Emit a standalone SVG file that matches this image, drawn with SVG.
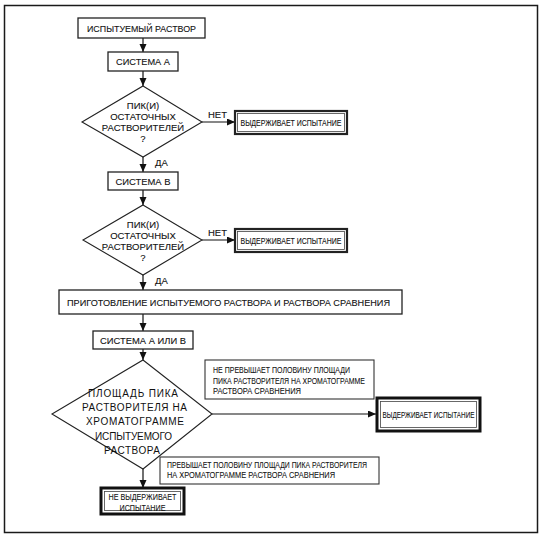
<svg xmlns="http://www.w3.org/2000/svg" width="544" height="549" viewBox="0 0 544 549">
<defs>
<marker id="arr" markerUnits="userSpaceOnUse" markerWidth="9" markerHeight="8" refX="8" refY="3.5" orient="auto">
<path d="M0,0 L8,3.5 L0,7 z" fill="#111"/>
</marker>
<style>
.t{font-family:"Liberation Sans",Arial,sans-serif;font-size:9.5px;fill:#111;stroke:#111;stroke-width:0.1}
.b{font-family:"Liberation Sans",Arial,sans-serif;font-size:10px;fill:#111}
.s{font-family:"Liberation Sans",Arial,sans-serif;font-size:9px;fill:#111;stroke:#111;stroke-width:0.1}
.n{font-family:"Liberation Sans",Arial,sans-serif;font-size:8.3px;fill:#111;stroke:#111;stroke-width:0.08}
.m{text-anchor:middle}
.box{fill:#fff;stroke:#222;stroke-width:1.3}
.dbl{fill:#fff;stroke:#222;stroke-width:2.2}
.thk{fill:#fff;stroke:#111;stroke-width:3}
.inn{fill:none;stroke:#444;stroke-width:0.8}
.note{fill:#fff;stroke:#333;stroke-width:1.1}
.dia{fill:#fff;stroke:#222;stroke-width:1.1}
.c{stroke:#111;stroke-width:1.2;fill:none}
</style>
</defs>
<rect x="0" y="0" width="544" height="549" fill="#fff"/>
<rect x="4.5" y="5.5" width="533" height="527" fill="none" stroke="#1a1a1a" stroke-width="1.5"/>

<g id="connectors">
<line class="c" x1="143" y1="38" x2="143" y2="52" marker-end="url(#arr)"/>
<line class="c" x1="143" y1="71" x2="143" y2="86" marker-end="url(#arr)"/>
<line class="c" x1="202" y1="122" x2="235" y2="122" marker-end="url(#arr)"/>
<line class="c" x1="143" y1="157" x2="143" y2="172" marker-end="url(#arr)"/>
<line class="c" x1="143" y1="190" x2="143" y2="205" marker-end="url(#arr)"/>
<line class="c" x1="202" y1="240" x2="235" y2="240" marker-end="url(#arr)"/>
<line class="c" x1="143" y1="275" x2="143" y2="290" marker-end="url(#arr)"/>
<line class="c" x1="143" y1="314" x2="143" y2="331" marker-end="url(#arr)"/>
<line class="c" x1="143" y1="349" x2="143" y2="360" marker-end="url(#arr)"/>
<line class="c" x1="212" y1="414" x2="376" y2="414" marker-end="url(#arr)"/>
<line class="c" x1="143" y1="469" x2="143" y2="488" marker-end="url(#arr)"/>
<text class="t" x="208" y="118">НЕТ</text>
<text class="t" x="155" y="166">ДА</text>
<text class="t" x="208" y="236">НЕТ</text>
<text class="t" x="155" y="284">ДА</text>
</g>

<g id="n1">
<rect class="box" x="78" y="18" width="127" height="20"/>
<text class="t m" x="141.5" y="31.5" textLength="109" lengthAdjust="spacingAndGlyphs">ИСПЫТУЕМЫЙ РАСТВОР</text>
</g>
<g id="n2">
<rect class="box" x="108" y="52" width="70" height="19"/>
<text class="t m" x="143" y="65" textLength="54" lengthAdjust="spacingAndGlyphs">СИСТЕМА А</text>
</g>
<g id="d1">
<polygon class="dia" points="143,86 202,122 143,157 82,122"/>
<text class="t m" x="143" y="108.5">ПИК(И)</text>
<text class="t m" x="143" y="119.5">ОСТАТОЧНЫХ</text>
<text class="t m" x="143" y="130.5">РАСТВОРИТЕЛЕЙ</text>
<text class="t m" x="143" y="141.5">?</text>
</g>
<g id="r1">
<rect class="dbl" x="235" y="111" width="112" height="23"/>
<rect class="inn" x="237.5" y="113.5" width="107" height="18"/>
<text class="s m" x="291" y="126" textLength="101" lengthAdjust="spacingAndGlyphs">ВЫДЕРЖИВАЕТ ИСПЫТАНИЕ</text>
</g>
<g id="n3">
<rect class="box" x="108" y="172" width="70" height="18"/>
<text class="t m" x="143" y="184.5" textLength="55" lengthAdjust="spacingAndGlyphs">СИСТЕМА В</text>
</g>
<g id="d2">
<polygon class="dia" points="143,205 202,240 143,275 83,240"/>
<text class="t m" x="143" y="228">ПИК(И)</text>
<text class="t m" x="143" y="239">ОСТАТОЧНЫХ</text>
<text class="t m" x="143" y="250">РАСТВОРИТЕЛЕЙ</text>
<text class="t m" x="143" y="261">?</text>
</g>
<g id="r2">
<rect class="dbl" x="235" y="229" width="112" height="23"/>
<rect class="inn" x="237.5" y="231.5" width="107" height="18"/>
<text class="s m" x="291" y="244" textLength="101" lengthAdjust="spacingAndGlyphs">ВЫДЕРЖИВАЕТ ИСПЫТАНИЕ</text>
</g>
<g id="n4">
<rect class="box" x="59" y="290" width="343" height="24"/>
<text class="t m" x="228.5" y="305.5" textLength="323" lengthAdjust="spacingAndGlyphs">ПРИГОТОВЛЕНИЕ ИСПЫТУЕМОГО РАСТВОРА И РАСТВОРА СРАВНЕНИЯ</text>
</g>
<g id="n5">
<rect class="box" x="93" y="331" width="100" height="18"/>
<text class="t m" x="143" y="343.5" textLength="86" lengthAdjust="spacingAndGlyphs">СИСТЕМА А ИЛИ В</text>
</g>
<g id="d3">
<polygon class="dia" points="143,360 212,414 143,469 52,414"/>
<text class="b m" x="133" y="397" textLength="90" lengthAdjust="spacing">ПЛОЩАДЬ ПИКА</text>
<text class="b m" x="134.5" y="411" textLength="105" lengthAdjust="spacing">РАСТВОРИТЕЛЯ НА</text>
<text class="b m" x="135" y="425" textLength="98" lengthAdjust="spacing">ХРОМАТОГРАММЕ</text>
<text class="b m" x="133.5" y="439.5" textLength="77" lengthAdjust="spacing">ИСПЫТУЕМОГО</text>
<text class="b m" x="132" y="454" textLength="56" lengthAdjust="spacing">РАСТВОРА</text>
</g>
<g id="note1">
<rect class="note" x="205" y="360" width="169" height="39"/>
<text class="n" x="213" y="373" textLength="137" lengthAdjust="spacingAndGlyphs">НЕ ПРЕВЫШАЕТ ПОЛОВИНУ ПЛОЩАДИ</text>
<text class="n" x="213" y="383.5" textLength="152" lengthAdjust="spacingAndGlyphs">ПИКА РАСТВОРИТЕЛЯ НА ХРОМАТОГРАММЕ</text>
<text class="n" x="213" y="394" textLength="88" lengthAdjust="spacingAndGlyphs">РАСТВОРА  СРАВНЕНИЯ</text>
</g>
<g id="r3">
<rect class="thk" x="377" y="398" width="103" height="33"/>
<rect class="inn" x="380.5" y="401.5" width="96" height="26"/>
<text class="s m" x="428.5" y="418" textLength="92" lengthAdjust="spacingAndGlyphs">ВЫДЕРЖИВАЕТ ИСПЫТАНИЕ</text>
</g>
<g id="note2">
<rect class="note" x="160" y="457" width="219" height="27"/>
<text class="n" x="167" y="467.5" textLength="200" lengthAdjust="spacingAndGlyphs">ПРЕВЫШАЕТ ПОЛОВИНУ ПЛОЩАДИ ПИКА РАСТВОРИТЕЛЯ</text>
<text class="n" x="167" y="478" textLength="168" lengthAdjust="spacingAndGlyphs">НА ХРОМАТОГРАММЕ  РАСТВОРА  СРАВНЕНИЯ</text>
</g>
<g id="r4">
<rect class="thk" x="101" y="488" width="83" height="26"/>
<rect class="inn" x="104.5" y="491.5" width="76" height="19"/>
<text class="t m" x="142.5" y="500" textLength="68" lengthAdjust="spacingAndGlyphs">НЕ ВЫДЕРЖИВАЕТ</text>
<text class="t m" x="142.5" y="510.5" textLength="46" lengthAdjust="spacingAndGlyphs">ИСПЫТАНИЕ</text>
</g>
</svg>
